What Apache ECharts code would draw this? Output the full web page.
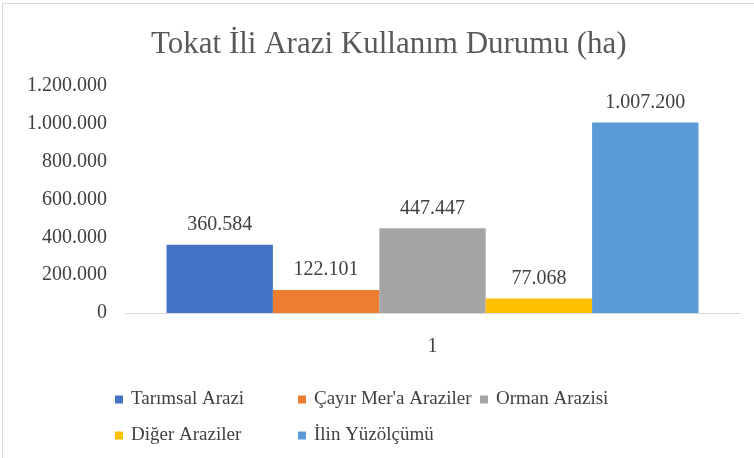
<!DOCTYPE html>
<html>
<head>
<meta charset="utf-8">
<script src="https://cdn.jsdelivr.net/npm/echarts@6/dist/echarts.min.js"></script>
<style>
  body { margin: 0; background: #fff; }
  #frame { position: absolute; left: 2px; top: 3px; width: 800px; height: 500px; border: 1px solid #d9d9d9; }
  #main { position: absolute; left: 0; top: 0; width: 754px; height: 458px; }
</style>
</head>
<body>
<div id="frame"></div>
<div id="main"></div>
<script>
// kategori ve seriler
var categories = ['1'];
var seriesNames = ['Tarımsal Arazi', "Çayır Mer'a Araziler", 'Orman Arazisi', 'Diğer Araziler', 'İlin Yüzölçümü'];
var seriesValues = [360584, 122101, 447447, 77068, 1007200];
var seriesColors = ['#4472C4', '#ED7D31', '#A5A5A5', '#FFC000', '#5B9BD5'];
var yTicks = [0, 200000, 400000, 600000, 800000, 1000000, 1200000];

var fontName = 'Times New Roman, Liberation Serif, serif';

// 1.200.000 biçimi
function fmt(v) {
    return String(v).replace(/\B(?=(\d{3})+(?!\d))/g, '.');
}

var chartDom = document.getElementById('main');
var myChart = echarts.init(chartDom);

var series = seriesNames.map(function (name, i) {
    return {
        name: name,
        type: 'bar',
        data: [seriesValues[i]],
        itemStyle: { color: seriesColors[i] },
        barGap: '0%',
        barCategoryGap: '13.5%',
        label: {
            show: true,
            position: 'top',
            distance: 10,
            fontFamily: fontName,
            fontSize: 20,
            color: '#404040',
            formatter: function (p) { return fmt(p.value); }
        }
    };
});

// lejant: iki satır, üç sütun
var legendPos = [[115, 390], [298, 390], [480, 390], [115, 426], [298, 426]];
var legends = seriesNames.map(function (name, i) {
    return {
        data: [name],
        left: legendPos[i][0],
        top: legendPos[i][1],
        padding: 0,
        itemWidth: 8,
        itemHeight: 8,
        icon: 'rect',
        textStyle: { fontFamily: fontName, fontSize: 19, color: '#404040', padding: [0, 0, 0, 3] }
    };
});

var option = {
    animation: false,
    textStyle: { fontFamily: fontName },
    title: {
        text: 'Tokat İli Arazi Kullanım Durumu (ha)',
        left: 146,
        top: 24,
        textStyle: { fontFamily: fontName, fontSize: 31, fontWeight: 'normal', color: '#595959' }
    },
    grid: { left: 125, right: 14, top: 86, bottom: 145 },
    xAxis: {
        type: 'category',
        data: categories,
        axisLine: { lineStyle: { color: '#d9d9d9' } },
        axisTick: { show: false },
        axisLabel: { fontFamily: fontName, fontSize: 20, color: '#404040', margin: 24 }
    },
    yAxis: {
        type: 'value',
        min: yTicks[0],
        max: yTicks[yTicks.length - 1],
        interval: 200000,
        splitLine: { show: false },
        axisLine: { show: false },
        axisLabel: { fontFamily: fontName, fontSize: 20, color: '#404040', margin: 18, formatter: fmt }
    },
    legend: legends,
    series: series
};

option && myChart.setOption(option);
</script>
</body>
</html>
